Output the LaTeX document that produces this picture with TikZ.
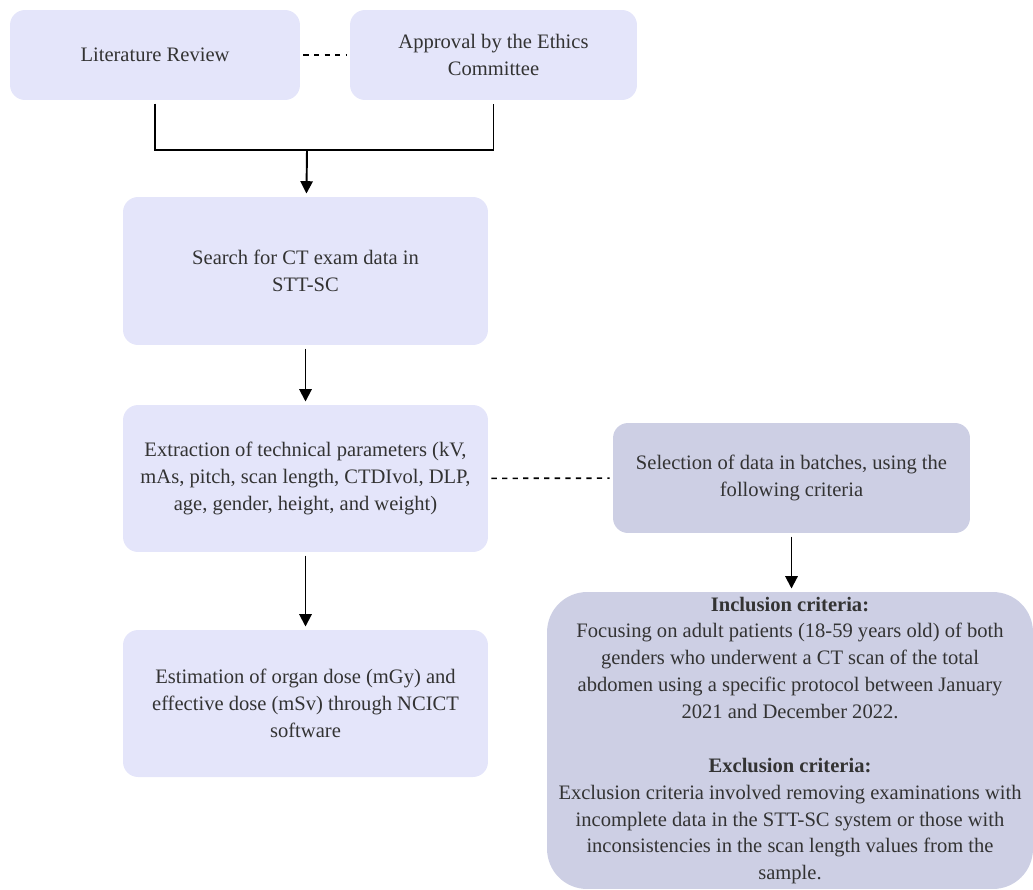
\documentclass[tikz,border=0pt]{standalone}
\usepackage{fontspec}
\setmainfont{Liberation Serif}
\usetikzlibrary{arrows.meta}
\definecolor{boxlight}{HTML}{E4E5FA}
\definecolor{boxdark}{HTML}{CDCFE4}
\definecolor{txtgrey}{HTML}{333333}
\begin{document}
\begin{tikzpicture}[x=0.02cm, y=-0.02cm, ->, >={Stealth[length=7pt, width=7pt, inset=0pt]}, line width=1.1pt]
  \tikzset{stage/.style={rectangle, rounded corners=0.3cm, fill=boxlight, text=txtgrey,
      align=center, inner sep=0pt, outer sep=2pt, font=\fontsize{11.7}{15.3}\selectfont}}
  \useasboundingbox (0,0) rectangle (1033,889);

  \node[stage, minimum width=5.8cm, minimum height=1.8cm] (LitRev) at (155,55) {Literature Review};
  \node[stage, minimum width=5.74cm, minimum height=1.8cm] (Ethics) at (493.5,55) {Approval by the Ethics\\Committee};
  \node[stage, minimum width=7.3cm, minimum height=2.96cm] (Search) at (305.5,271) {Search for CT exam data in\\STT-SC};
  \node[stage, minimum width=7.3cm, minimum height=2.94cm] (Extract) at (305.5,478.5) {Extraction of technical parameters (kV,\\mAs, pitch, scan length, CTDIvol, DLP,\\age, gender, height, and weight)};
  \node[stage, minimum width=7.3cm, minimum height=2.94cm] (Estimate) at (305.5,703.5) {Estimation of organ dose (mGy) and\\effective dose (mSv) through NCICT\\software};
  \node[stage, fill=boxdark, minimum width=7.14cm, minimum height=2.2cm] (Select) at (791.5,478) {Selection of data in batches, using the\\following criteria};
  \node[stage, fill=boxdark, rounded corners=0.8cm, minimum width=9.72cm, minimum height=5.94cm] (Criteria) at (790,740.5) {\textbf{Inclusion criteria:}\\
    Focusing on adult patients (18-59 years old) of both\\
    genders who underwent a CT scan of the total\\
    abdomen using a specific protocol between January\\
    2021 and December 2022.\\[15.3pt]
    \textbf{Exclusion criteria:}\\
    Exclusion criteria involved removing examinations with\\
    incomplete data in the STT-SC system or those with\\
    inconsistencies in the scan length values from the\\
    sample.};

  \coordinate (Merge) at (307,150);
  \path (LitRev) edge[-, dashed, line width=0.9pt] (Ethics);
  \draw[-] (LitRev.south) |- (Merge) -| (Ethics.south);
  \path (Merge) edge (Search);
  \path (Search) edge (Extract);
  \path (Extract) edge (Estimate);
  \path (Extract) edge[-, dashed, line width=0.9pt] (Select);
  \path (Select.south) edge (Select.south |- Criteria.north);
\end{tikzpicture}
\end{document}
